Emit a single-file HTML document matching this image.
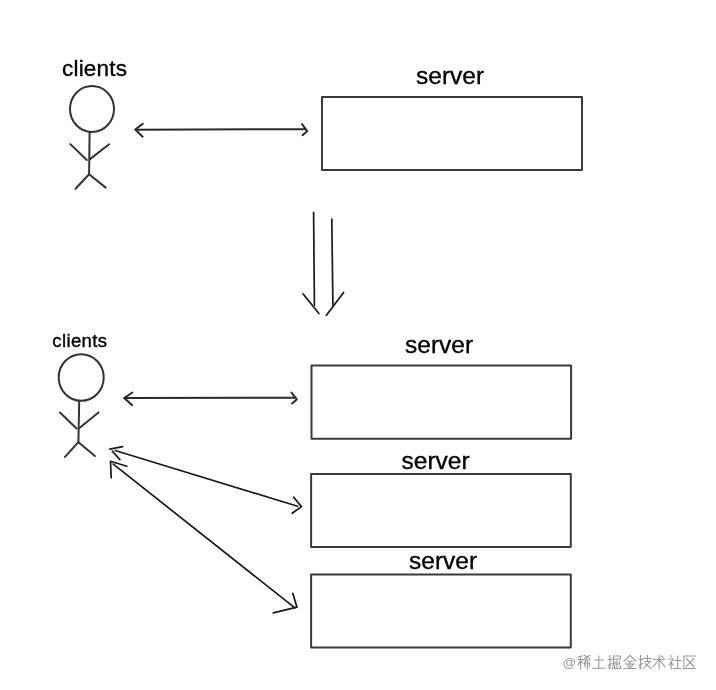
<!DOCTYPE html>
<html>
<head>
<meta charset="utf-8">
<style>
html,body{margin:0;padding:0;background:#fff;width:716px;height:690px;overflow:hidden;}
svg{display:block;will-change:transform;}
text{font-family:"Liberation Sans",sans-serif;fill:#000;stroke:#000;stroke-width:0.35px;}
</style>
</head>
<body>
<svg width="716" height="690" viewBox="0 0 716 690">
<rect x="0" y="0" width="716" height="690" fill="#fff"/>
<g fill="none" stroke="#3a3a3a" stroke-width="2" stroke-linecap="round" stroke-linejoin="round">
  <!-- boxes -->
  <rect x="322" y="97" width="260" height="73"/>
  <rect x="311.5" y="365.5" width="259.6" height="73.2"/>
  <rect x="311.1" y="473.9" width="259.7" height="73"/>
  <rect x="311.1" y="574.6" width="259.7" height="73"/>
</g>
<g fill="none" stroke="#333" stroke-width="2" stroke-linecap="round" stroke-linejoin="round">
  <!-- top figure -->
  <ellipse cx="92" cy="109" rx="22" ry="23"/>
  <path d="M89.6 132.6 L89.1 174.3"/>
  <path d="M70.3 144.1 L86.8 160"/>
  <path d="M109.1 144.3 L90 159.1"/>
  <path d="M75.5 188.7 L89.1 174.3 L105.7 187.6"/>
  <!-- bottom figure -->
  <ellipse cx="81.2" cy="377.5" rx="22.5" ry="23.3"/>
  <path d="M79.2 401.1 L78.4 442.2"/>
  <path d="M59.9 412.5 L76.6 428.5"/>
  <path d="M98.5 412.5 L79.4 428"/>
  <path d="M65 456.9 L78.4 442.2 L94.9 456.1"/>
</g>
<g fill="none" stroke="#2a2a2a" stroke-width="2" stroke-linecap="round" stroke-linejoin="round">
  <!-- top horizontal arrow -->
  <path d="M135.5 129.7 L305.5 129.2"/>
  <path d="M142.8 123.8 L135.3 129.5 L142.6 136.8"/>
  <path d="M302 124 L307.2 131.2 L302.5 135.2"/>
  <!-- bottom horizontal arrow -->
  <path d="M124.3 398.1 L295.5 397.8"/>
  <path d="M132.4 392.5 L124.3 398 L132.1 405.2"/>
  <path d="M291.5 392.6 L296.8 399.4 L292 403.4"/>
</g>
<g fill="none" stroke="#181818" stroke-width="1.7" stroke-linecap="round" stroke-linejoin="round">
  <!-- down double arrow -->
  <path d="M313.6 212.3 L314.4 305.1"/>
  <path d="M331.8 219 L332.9 305.1"/>
  <path d="M303 293.8 L318.9 313.5"/>
  <path d="M343.6 292.5 L326.4 315.2"/>
  <!-- diagonal arrow 1 -->
  <path d="M115.2 450.5 L297.6 506.3"/>
  <path d="M109.8 449.1 L122.7 446.6"/>
  <path d="M112.4 451.2 L119.9 459.6"/>
  <path d="M293.7 497.2 L301.4 506.6 L292.2 513.3"/>
  <!-- diagonal arrow 2 -->
  <path d="M113.3 464.1 L294.9 607.9"/>
  <path d="M126.9 466.2 L110.5 461.3 L111.2 477.7"/>
  <path d="M292.8 593.3 L297 607.2 L273.3 612.8"/>
</g>
<!-- labels -->
<text x="62" y="75.5" font-size="22.5" letter-spacing="0.2">clients</text>
<text x="52.3" y="346.8" font-size="18.6" letter-spacing="0.35">clients</text>
<text x="416" y="84" font-size="24.5">server</text>
<text x="405" y="352.7" font-size="24.5">server</text>
<text x="401.5" y="469" font-size="24.5">server</text>
<text x="409" y="569" font-size="24.5">server</text>
<!-- watermark -->
<text x="562.5" y="667" font-size="13.5" style="fill:#9a9a9a;stroke:none">@</text>
<g fill="none" stroke="#9a9a9a" stroke-width="1.1" stroke-linecap="square">
<path transform="translate(577.6 655)" d="M1 1.8L5 0.8M0.5 4.5H5.5M3 1.2V14M3 5L0.5 10M3 5.5L5 8M7 0.5L12 3.5M12 0.5L7 3.5M6 5H12.5M9 3.5L6.5 9M7.5 8V12M7.5 8H12V11.5M9.8 6V14"/>
<path transform="translate(592.3 655)" d="M2 5H11M6.5 1V13M0.5 13.2H12.5"/>
<path transform="translate(607.9 655)" d="M0.3 4.5H4M2 0.5V13.5L1 12.5M0.3 10.5L4 8.5M5.5 1H12.5V4H5.5M5.5 1V8L4.6 13.5M9 5.5V13.5M7 6.5V9H11.5V6.5M6.5 10.5V13.5H12.5V10.5"/>
<path transform="translate(623.5 655)" d="M6.5 0.5L0.5 6M6.5 0.5L12.5 6M3.5 6.2H9.5M2 9H11M6.5 6.2V13.3M4 10L5 12M9 10L8 12M0.5 13.5H12.5"/>
<path transform="translate(638.6 655)" d="M0.3 4.5H4M2 0.5V13.5L1 12.5M0.3 10.5L4 8.5M5 3.5H12.5M8.8 0.5V6.5M6 6.5H11.5L5 13.5M6.5 8.5L12.5 13.5"/>
<path transform="translate(652.6 655)" d="M0.5 4.2H12.5M6.5 0.5V14M6.3 4.5L0.5 12M6.7 4.5L12.5 12M9 1L10.5 2.5"/>
<path transform="translate(668.2 655)" d="M2.5 0.5L3.5 2M0.5 4H5L1 10M3 6.5V14M3.5 8L5 10M6.5 5.5H12.5M9.5 1V13.3M5.5 13.5H12.5"/>
<path transform="translate(682.8 655)" d="M12.5 1H1V13.5H12.5M3.5 3.5L11 11.5M11 3.5L3.5 11.5"/>
</g>
</svg>
</body>
</html>
